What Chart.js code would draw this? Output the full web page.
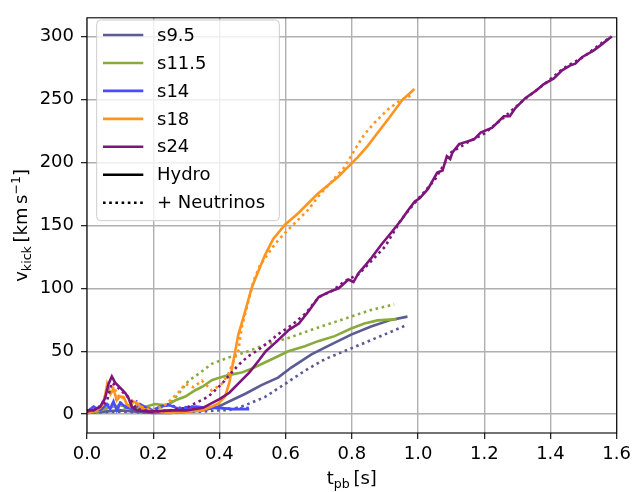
<!DOCTYPE html>
<html>
<head>
<meta charset="utf-8">
<script src="https://cdn.jsdelivr.net/npm/chart.js@4/dist/chart.umd.min.js"></script>
<style>
html,body{margin:0;padding:0;background:#fff;}
canvas{display:block;}
</style>
</head>
<body>
<canvas id="c" width="636" height="492"></canvas>
<script>
// ---- data ----
const models = ["s9.5", "s11.5", "s14", "s18", "s24"];
const xTicks = [0, 0.2, 0.4, 0.6, 0.8, 1.0, 1.2, 1.4, 1.6];
const yTicks = [0, 50, 100, 150, 200, 250, 300];

const s95HydroT = [0, 0.05, 0.1, 0.15, 0.2, 0.25, 0.3, 0.35, 0.397, 0.437, 0.477, 0.527, 0.577, 0.617, 0.678, 0.738, 0.798, 0.858, 0.918, 0.968];
const s95HydroV = [1, 2, 3, 2, 1, 1, 2, 3, 6, 11, 16, 23, 29, 37, 47.5, 55.4, 63.2, 69.7, 74.9, 77.5];
const s95NuT = [0, 0.1, 0.2, 0.3, 0.35, 0.4, 0.427, 0.477, 0.537, 0.598, 0.658, 0.718, 0.778, 0.838, 0.898, 0.963];
const s95NuV = [1, 2, 1, 2, 2, 3, 3.1, 7, 13.5, 24, 34.5, 43.6, 50.1, 56.6, 63.2, 70.5];

const s115HydroT = [0, 0.03, 0.06, 0.1, 0.15, 0.206, 0.24, 0.267, 0.297, 0.327, 0.35, 0.377, 0.4, 0.427, 0.467, 0.497, 0.537, 0.577, 0.608, 0.658, 0.698, 0.748, 0.798, 0.838, 0.878, 0.935];
const s115HydroV = [1, 2, 5, 7, 4, 8, 7, 11, 14, 19, 22, 27, 29, 31, 33, 36, 41, 46, 50, 54, 58, 62, 68, 72, 74.5, 75.5];
const s115NuT = [0, 0.04, 0.08, 0.12, 0.17, 0.21, 0.25, 0.277, 0.307, 0.337, 0.377, 0.427, 0.477, 0.527, 0.557, 0.608, 0.678, 0.738, 0.798, 0.858, 0.928];
const s115NuV = [2, 3, 6, 4, 5, 4, 8, 16.2, 26.6, 32, 40, 45, 49, 54, 56.6, 60.5, 67, 72.3, 77.5, 82.8, 87.2];

const s14HydroT = [0, 0.02, 0.04, 0.06, 0.07, 0.08, 0.09, 0.1, 0.12, 0.14, 0.16, 0.18, 0.2, 0.22, 0.25, 0.28, 0.3, 0.33, 0.36, 0.4, 0.44, 0.47, 0.49];
const s14HydroV = [2, 6, 3, 8, 4, 10, 3, 9, 5, 4, 8, 5, 3, 6, 7, 4, 5, 6, 5, 5, 4, 4, 4];
const s14NuT = [0, 0.03, 0.05, 0.07, 0.09, 0.11, 0.13, 0.15, 0.17, 0.2, 0.24, 0.28, 0.32, 0.36, 0.4, 0.44, 0.49];
const s14NuV = [1, 4, 10, 6, 12, 7, 5, 10, 4, 3, 8, 5, 6, 4, 5, 4, 5];

const s18HydroT = [0, 0.03, 0.05, 0.061, 0.071, 0.08, 0.09, 0.1, 0.111, 0.12, 0.131, 0.14, 0.151, 0.17, 0.2, 0.25, 0.3, 0.347, 0.377, 0.397, 0.417, 0.43, 0.442, 0.457, 0.477, 0.497, 0.512, 0.537, 0.562, 0.598, 0.638, 0.668, 0.698, 0.728, 0.758, 0.788, 0.818, 0.848, 0.878, 0.913, 0.953, 0.989];
const s18HydroV = [1, 3, 8, 24, 16, 20, 11, 14, 13.5, 8, 6, 10, 9, 4, 2, 1, 2, 3, 6, 8.5, 14, 25, 42, 63, 81, 100, 110, 126, 139, 150.6, 159.7, 167.6, 175.4, 182, 188.5, 196.3, 204.2, 213.2, 223.7, 235.5, 249.8, 258.4];
const s18NuT = [0, 0.04, 0.06, 0.08, 0.1, 0.12, 0.15, 0.2, 0.24, 0.277, 0.297, 0.322, 0.347, 0.377, 0.407, 0.427, 0.442, 0.457, 0.467, 0.482, 0.502, 0.522, 0.567, 0.598, 0.638, 0.668, 0.698, 0.738, 0.778, 0.813, 0.838, 0.868, 0.908, 0.948, 0.983];
const s18NuV = [1, 5, 18, 22, 12, 15, 7, 3, 8, 17.5, 24, 21.4, 26.6, 18.8, 24, 31.9, 42, 50, 68.4, 84, 105, 118, 135, 144, 154.5, 162.3, 172.8, 184.5, 196.3, 212, 222.4, 231.5, 241.9, 249.8, 253.7];

const s24HydroT = [0.0, 0.02, 0.04, 0.055, 0.065, 0.075, 0.085, 0.1, 0.115, 0.125, 0.135, 0.15, 0.19, 0.25, 0.3, 0.35, 0.4, 0.43, 0.46, 0.49, 0.52, 0.54, 0.57, 0.61, 0.64, 0.67, 0.70, 0.73, 0.76, 0.79, 0.805, 0.82, 0.84, 0.86, 0.89, 0.915, 0.95, 0.97, 0.99, 1.005, 1.03, 1.058, 1.074, 1.087, 1.097, 1.104, 1.124, 1.149, 1.169, 1.189, 1.224, 1.259, 1.277, 1.294, 1.324, 1.359, 1.379, 1.41, 1.435, 1.46, 1.475, 1.495, 1.53, 1.55, 1.585];
const s24HydroV = [3, 3, 6, 13, 24, 30, 25, 21, 17, 13, 6, 3, 2, 3, 3, 5, 12, 17, 25, 33, 43, 50, 57, 67, 72, 82, 93, 97, 100, 107, 105, 112, 118, 124.5, 135, 143, 154.5, 162, 169, 171.5, 179, 192, 193.6, 205, 202.8, 208, 214.6, 216.7, 218.4, 223.7, 227.6, 236.7, 236.7, 243.3, 251.1, 257.6, 262.1, 266.8, 273.3, 277.2, 278.5, 283.7, 288.9, 292.9, 300.2];
const s24NuT = [0, 0.03, 0.06, 0.075, 0.09, 0.11, 0.13, 0.15, 0.2, 0.25, 0.3, 0.33, 0.367, 0.387, 0.407, 0.427, 0.457, 0.487, 0.517, 0.547, 0.58, 0.62, 0.66, 0.70, 0.74, 0.78, 0.82, 0.86, 0.90, 0.95, 1.0, 1.05, 1.1, 1.15, 1.2, 1.26, 1.32, 1.38, 1.44, 1.5, 1.56, 1.585];
const s24NuV = [2, 4, 10, 25, 22, 17, 12, 4, 2, 3, 5, 9, 14, 19, 24, 30, 39, 46, 51, 57, 64, 71, 80, 93, 98, 106, 111, 122, 133, 155, 171, 186, 208, 216, 223, 236, 250, 262, 275, 284, 296, 300];

const colors = ["#5b5b95", "#8aab3b", "#4b4bff", "#ff951f", "#7d157d"];

// ---- build datasets ----
function pts(t, v) { return t.map((x, i) => ({ x: x, y: v[i] })); }
const series = [
  [s95HydroT, s95HydroV, s95NuT, s95NuV],
  [s115HydroT, s115HydroV, s115NuT, s115NuV],
  [s14HydroT, s14HydroV, s14NuT, s14NuV],
  [s18HydroT, s18HydroV, s18NuT, s18NuV],
  [s24HydroT, s24HydroV, s24NuT, s24NuV]
];
const LW = 2.6;
const DASH = [2.6, 3.6];
let datasets = [];
series.forEach((s, i) => {
  datasets.push({ label: models[i] + " hydro", data: pts(s[0], s[1]), borderColor: colors[i], borderWidth: LW, pointRadius: 0, tension: 0, fill: false, borderCapStyle: 'butt' });
  datasets.push({ label: models[i] + " nu", data: pts(s[2], s[3]), borderColor: colors[i], borderWidth: LW, borderDash: DASH, pointRadius: 0, tension: 0, fill: false, borderCapStyle: 'butt' });
});
datasets.reverse(); // first dataset is drawn on top in Chart.js

const FONT = "'DejaVu Sans', sans-serif";

const decor = {
  id: 'decor',
  afterDatasetsDraw(chart) {
    const ctx = chart.ctx, a = chart.chartArea;
    ctx.save();
    ctx.strokeStyle = '#000';
    ctx.lineWidth = 1.1;
    ctx.strokeRect(a.left, a.top, a.right - a.left, a.bottom - a.top);
    ctx.restore();
  },
  afterDraw(chart) {
    const ctx = chart.ctx, a = chart.chartArea;
    ctx.save();
    ctx.fillStyle = '#000';
    ctx.textBaseline = 'alphabetic';
    function drawSegs(segs, cx, by) {
      let total = 0;
      segs.forEach(s => { ctx.font = s.size + 'px ' + FONT; s.w = ctx.measureText(s.t).width; total += s.w; });
      let x = cx - total / 2;
      segs.forEach(s => { ctx.font = s.size + 'px ' + FONT; ctx.fillText(s.t, x, by + s.dy); x += s.w; });
    }
    // x title
    drawSegs([
      { t: 't', size: 18, dy: 0 },
      { t: 'pb', size: 12.6, dy: 3.5 },
      { t: '\u2009[s]', size: 18, dy: 0 }
    ], (a.left + a.right) / 2, 484);
    // y title
    ctx.save();
    ctx.translate(27, (a.top + a.bottom) / 2);
    ctx.rotate(-Math.PI / 2);
    drawSegs([
      { t: 'v', size: 18, dy: 0 },
      { t: 'kick', size: 12.6, dy: 3.5 },
      { t: '\u2009[km\u2009s', size: 18, dy: 0 },
      { t: '\u22121', size: 12.6, dy: -7.5 },
      { t: ']', size: 18, dy: 0 }
    ], 0, 0);
    ctx.restore();

    // legend
    const lx = 96.7, ly = 20, lw = 182.6, lh = 200.7;
    ctx.beginPath();
    ctx.roundRect(lx, ly, lw, lh, 4);
    ctx.fillStyle = 'rgba(255,255,255,0.8)';
    ctx.fill();
    ctx.strokeStyle = '#cccccc';
    ctx.lineWidth = 1;
    ctx.stroke();
    const entries = models.map((m, i) => ({ label: m, color: colors[i], dash: [] }));
    entries.push({ label: 'Hydro', color: '#000', dash: [] });
    entries.push({ label: '+ Neutrinos', color: '#000', dash: DASH });
    ctx.font = '18px ' + FONT;
    ctx.textBaseline = 'middle';
    entries.forEach((e, i) => {
      const y = 35 + i * 27.95;
      ctx.beginPath();
      ctx.setLineDash(e.dash);
      ctx.strokeStyle = e.color;
      ctx.lineWidth = LW;
      ctx.moveTo(103, y);
      ctx.lineTo(143.3, y);
      ctx.stroke();
      ctx.setLineDash([]);
      ctx.fillStyle = '#000';
      ctx.fillText(e.label, 157, y + 1);
    });
    ctx.restore();
  }
};

new Chart(document.getElementById('c'), {
  type: 'line',
  data: { datasets: datasets },
  options: {
    responsive: false,
    animation: false,
    events: [],
    layout: { padding: { left: 0, right: 16, top: 11, bottom: 0 } },
    plugins: { legend: { display: false }, tooltip: { enabled: false }, title: { display: false } },
    scales: {
      x: {
        type: 'linear', min: 0, max: 1.6,
        afterBuildTicks: s => { s.ticks = xTicks.map(v => ({ value: v })); },
        afterFit: s => { s.height = 59; },
        ticks: { autoSkip: false, maxRotation: 0, padding: 5, color: '#000', font: { family: FONT, size: 18 }, callback: v => Number(v).toFixed(1) },
        grid: { color: '#b0b0b0', lineWidth: 1.4, tickLength: 6, tickColor: '#000', tickWidth: 1.1 },
        border: { display: false }
      },
      y: {
        type: 'linear', min: -15, max: 315,
        afterBuildTicks: s => { s.ticks = yTicks.map(v => ({ value: v })); },
        afterFit: s => { s.width = 87; },
        ticks: { autoSkip: false, padding: 7, color: '#000', font: { family: FONT, size: 18 }, callback: v => String(v) },
        grid: { color: '#b0b0b0', lineWidth: 1.4, tickLength: 6, tickColor: '#000', tickWidth: 1.1 },
        border: { display: false }
      }
    }
  },
  plugins: [decor]
});
</script>
</body>
</html>
